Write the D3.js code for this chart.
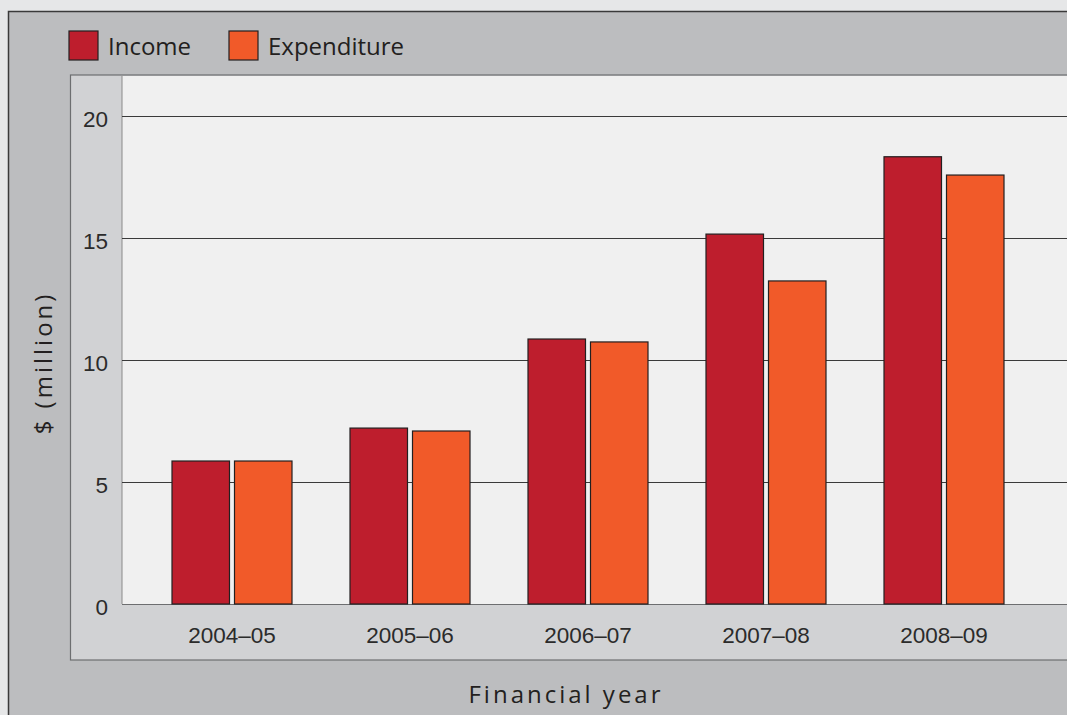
<!DOCTYPE html>
<html>
<head>
<meta charset="utf-8">
<script src="https://cdn.jsdelivr.net/npm/d3@7"></script>
<style>
  body { margin: 0; background: #e6e7e8; }
  svg { display: block; }
  .tick-label { font-family: "Liberation Sans", Arial, sans-serif; font-size: 22.5px; fill: #2b2b2b; }
  .legend-label { font-family: "Open Sans", sans-serif; font-size: 24px; fill: #231f20; }
  .axis-title { font-family: "Open Sans", sans-serif; font-size: 24px; fill: #231f20; letter-spacing: 3px; }
</style>
</head>
<body>
<div id="wrapper"></div>
<script>
const years = ["2004–05", "2005–06", "2006–07", "2007–08", "2008–09"]
const income = [5.86, 7.21, 10.86, 15.16, 18.33]
const expenditure = [5.86, 7.09, 10.74, 13.24, 17.58]
const seriesNames = ["Income", "Expenditure"]
const seriesColors = ["#be1e2d", "#f15a29"]
const yTicks = [0, 5, 10, 15, 20]

function drawChart() {
  const width = 1067
  const height = 715

  const wrapper = d3.select("#wrapper")
    .append("svg")
    .attr("width", width)
    .attr("height", height)

  // outer grey panel
  wrapper.append("rect")
    .attr("x", 8.5).attr("y", 11.5)
    .attr("width", width).attr("height", height)
    .attr("fill", "#bcbdbf")
    .attr("stroke", "#3a3a3a")
    .attr("stroke-width", 1.5)

  // inner axis panel
  wrapper.append("rect")
    .attr("x", 70.5).attr("y", 75)
    .attr("width", width).attr("height", 585)
    .attr("fill", "#d1d2d4")
    .attr("stroke", "#6d6e70")
    .attr("stroke-width", 1.2)

  // plot area
  const plotLeft = 122
  const plotTop = 76
  const plotBottom = 604
  wrapper.append("rect")
    .attr("x", plotLeft).attr("y", plotTop)
    .attr("width", width).attr("height", plotBottom - plotTop)
    .attr("fill", "#f0f0f0")
  wrapper.append("line")
    .attr("x1", plotLeft).attr("x2", plotLeft)
    .attr("y1", plotTop).attr("y2", plotBottom)
    .attr("stroke", "#8a8a8a")

  const yScale = d3.scaleLinear()
    .domain([0, 20])
    .range([plotBottom, 116])

  const xScale = d3.scaleBand()
    .domain(years)
    .range([143, 1033])

  const innerScale = d3.scaleBand()
    .domain(seriesNames)
    .range([29, 149])
    .paddingInner(0.08)

  // gridlines
  wrapper.append("g")
    .selectAll("line")
    .data(yTicks)
    .join("line")
    .attr("x1", plotLeft)
    .attr("x2", width)
    .attr("y1", d => Math.round(yScale(d)) + 0.5)
    .attr("y2", d => Math.round(yScale(d)) + 0.5)
    .attr("stroke", d => d === 0 ? "#6d6e70" : "#3a3a3a")
    .attr("stroke-width", 1.2)

  // y tick labels
  wrapper.append("g")
    .selectAll("text")
    .data(yTicks)
    .join("text")
    .attr("class", "tick-label")
    .attr("x", 108)
    .attr("y", d => yScale(d) + 10.5)
    .attr("text-anchor", "end")
    .text(d => d)

  // bars
  const rows = years.map((y, i) => ({ year: y, values: [income[i], expenditure[i]] }))
  const groups = wrapper.append("g")
    .selectAll("g")
    .data(rows)
    .join("g")
    .attr("transform", d => `translate(${xScale(d.year)},0)`)

  groups.selectAll("rect")
    .data(d => d.values.map((v, j) => ({ name: seriesNames[j], value: v, color: seriesColors[j] })))
    .join("rect")
    .attr("x", d => innerScale(d.name))
    .attr("y", d => yScale(d.value))
    .attr("width", innerScale.bandwidth())
    .attr("height", d => yScale(0) - yScale(d.value))
    .attr("fill", d => d.color)
    .attr("stroke", "#231f20")
    .attr("stroke-width", 1.2)

  // x tick labels
  wrapper.append("g")
    .selectAll("text")
    .data(years)
    .join("text")
    .attr("class", "tick-label")
    .attr("x", d => xScale(d) + xScale.bandwidth() / 2)
    .attr("y", 643)
    .attr("text-anchor", "middle")
    .text(d => d)

  // axis titles
  wrapper.append("text")
    .attr("class", "axis-title")
    .attr("transform", "translate(52,363) rotate(-90)")
    .attr("text-anchor", "middle")
    .text("$ (million)")

  wrapper.append("text")
    .attr("class", "axis-title")
    .attr("x", 566)
    .attr("y", 703)
    .attr("text-anchor", "middle")
    .text("Financial year")

  // legend
  const legendX = [69, 229]
  const legend = wrapper.append("g")
    .selectAll("g")
    .data(seriesNames)
    .join("g")
    .attr("transform", (d, i) => `translate(${legendX[i]},31)`)

  legend.append("rect")
    .attr("width", 29)
    .attr("height", 29)
    .attr("fill", (d, i) => seriesColors[i])
    .attr("stroke", "#231f20")
    .attr("stroke-width", 1.2)

  legend.append("text")
    .attr("class", "legend-label")
    .attr("x", 39)
    .attr("y", 24)
    .text(d => d)
}

drawChart()
</script>
</body>
</html>
